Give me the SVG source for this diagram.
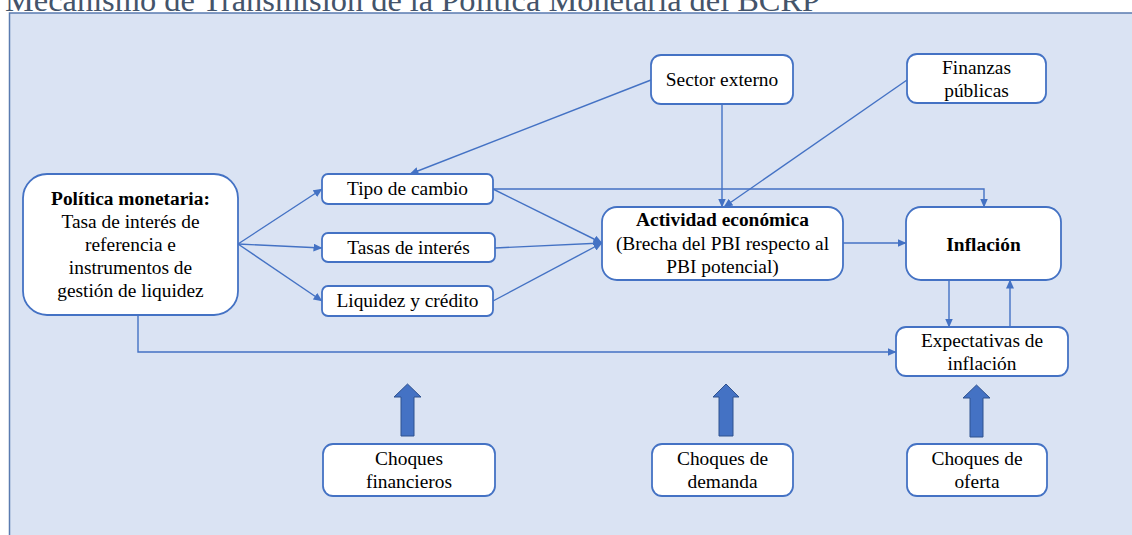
<svg xmlns="http://www.w3.org/2000/svg" width="1132" height="535" viewBox="0 0 1132 535">
<defs>
<style>
.node{fill:#ffffff;stroke:#4472c4;stroke-width:1.8}
.t{font-family:"Liberation Serif","Times New Roman",serif;font-size:19.4px;fill:#000;text-anchor:middle}
.b{font-weight:bold}
.c{fill:none;stroke:#4472c4;stroke-width:1.4}
.blk{fill:#4472c4;stroke:#2f528f;stroke-width:1}
</style>
<marker id="ah" markerUnits="userSpaceOnUse" markerWidth="9" markerHeight="8" refX="8.5" refY="4" orient="auto">
<path d="M0,0 L9,4 L0,8 z" fill="#4472c4"/>
</marker>
</defs>
<rect x="0" y="0" width="1132" height="535" fill="#ffffff"/>
<text x="5" y="10.5" font-family="Liberation Serif,'Times New Roman',serif" font-size="32.4" fill="#44546a">Mecanismo de Transmisión de la Política Monetaria del BCRP</text>
<rect x="9.5" y="13" width="1130" height="530" fill="#dae3f3" stroke="#5a7bb0" stroke-width="1.5"/>

<g id="connectors">
<path class="c" d="M238,244 L322,189" marker-end="url(#ah)"/>
<path class="c" d="M238,244 L322,248" marker-end="url(#ah)"/>
<path class="c" d="M238,244 L322,301" marker-end="url(#ah)"/>
<path class="c" d="M493,189 L602,243" marker-end="url(#ah)"/>
<path class="c" d="M495,248 L602,243" marker-end="url(#ah)"/>
<path class="c" d="M493,301 L602,243" marker-end="url(#ah)"/>
<path class="c" d="M651,80 L410,174" marker-end="url(#ah)"/>
<path class="c" d="M722,104 L722,207" marker-end="url(#ah)"/>
<path class="c" d="M907,80 L724,207" marker-end="url(#ah)"/>
<path class="c" d="M493,189 L984,189 L984,207" marker-end="url(#ah)"/>
<path class="c" d="M843,243 L906,243" marker-end="url(#ah)"/>
<path class="c" d="M949,280 L949,327" marker-end="url(#ah)"/>
<path class="c" d="M1010,327 L1010,280" marker-end="url(#ah)"/>
<path class="c" d="M138,315 L138,352 L896,352" marker-end="url(#ah)"/>
<polygon class="blk" points="401,436 401,397 394,397 407.5,384 421,397 414,397 414,436"/>
<polygon class="blk" points="719,436 719,397 713,397 726,384 739,397 733,397 733,436"/>
<polygon class="blk" points="970,437 970,398 963,398 976.5,385 990,398 983,398 983,437"/>
</g>

<g id="politica">
<rect class="node" x="23" y="174" width="215" height="141" rx="24"/>
<text class="t b" x="130.5" y="205">Política monetaria:</text>
<text class="t" x="130.5" y="228">Tasa de interés de</text>
<text class="t" x="130.5" y="251">referencia e</text>
<text class="t" x="130.5" y="274">instrumentos de</text>
<text class="t" x="130.5" y="297">gestión de liquidez</text>
</g>
<g id="tipo">
<rect class="node" x="322" y="174" width="171" height="30" rx="6"/>
<text class="t" x="407.5" y="195">Tipo de cambio</text>
</g>
<g id="tasas">
<rect class="node" x="322" y="233" width="173" height="29" rx="6"/>
<text class="t" x="408.5" y="254">Tasas de interés</text>
</g>
<g id="liquidez">
<rect class="node" x="322" y="286" width="171" height="30" rx="6"/>
<text class="t" x="407.5" y="307">Liquidez y crédito</text>
</g>
<g id="sector">
<rect class="node" x="651" y="55" width="142" height="49" rx="10"/>
<text class="t" x="722" y="86">Sector externo</text>
</g>
<g id="finanzas">
<rect class="node" x="907" y="54" width="139" height="49" rx="10"/>
<text class="t" x="976.5" y="74">Finanzas</text>
<text class="t" x="976.5" y="97">públicas</text>
</g>
<g id="actividad">
<rect class="node" x="602" y="207" width="241" height="73" rx="15"/>
<text class="t b" x="722.5" y="226">Actividad económica</text>
<text class="t" x="722.5" y="250">(Brecha del PBI respecto al</text>
<text class="t" x="722.5" y="273">PBI potencial)</text>
</g>
<g id="inflacion">
<rect class="node" x="906" y="207" width="155" height="73" rx="15"/>
<text class="t b" x="983.5" y="251">Inflación</text>
</g>
<g id="expectativas">
<rect class="node" x="896" y="327" width="172" height="49" rx="10"/>
<text class="t" x="982" y="347">Expectativas de</text>
<text class="t" x="982" y="370">inflación</text>
</g>
<g id="choques-financieros">
<rect class="node" x="323" y="444" width="172" height="52" rx="10"/>
<text class="t" x="409" y="465">Choques</text>
<text class="t" x="409" y="488">financieros</text>
</g>
<g id="choques-demanda">
<rect class="node" x="652" y="444" width="141" height="52" rx="10"/>
<text class="t" x="722.5" y="465">Choques de</text>
<text class="t" x="722.5" y="488">demanda</text>
</g>
<g id="choques-oferta">
<rect class="node" x="907" y="444" width="140" height="52" rx="10"/>
<text class="t" x="977" y="465">Choques de</text>
<text class="t" x="977" y="488">oferta</text>
</g>
</svg>
